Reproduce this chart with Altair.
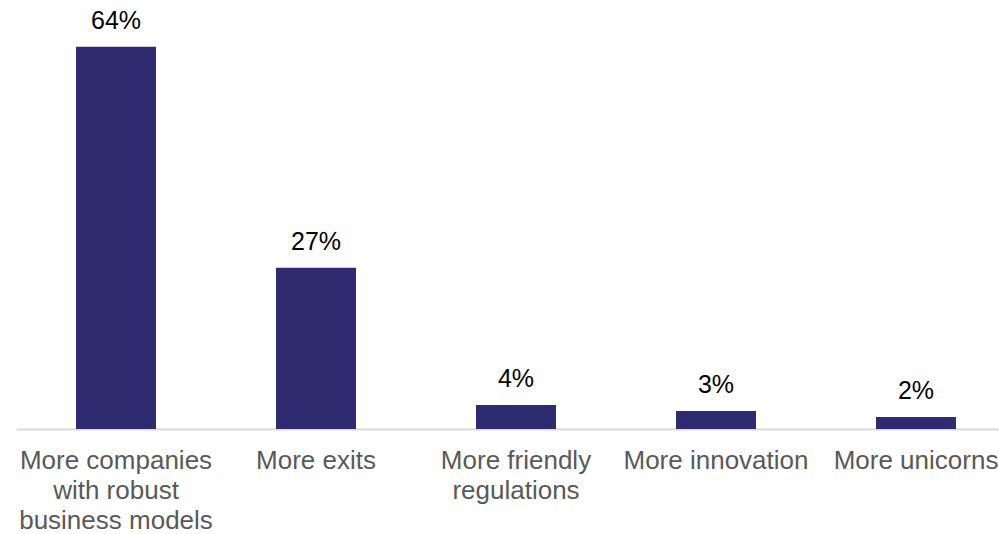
import altair as alt
import pandas as pd

categories = ["More companies|with robust|business models", "More exits", "More friendly|regulations", "More innovation", "More unicorns"]
values = [64, 27, 4, 3, 2]
labels = ["64%", "27%", "4%", "3%", "2%"]

df = pd.DataFrame({"cat": categories, "val": values, "lab": labels})

x = alt.X("cat:N", sort=categories, title=None,
          scale=alt.Scale(paddingInner=0.6, paddingOuter=0.3, range=[0, 1000]),
          axis=alt.Axis(labelAngle=0, labelExpr="split(datum.label, '|')",
                        labelFont="Liberation Sans", labelFontSize=26, labelColor="#595959",
                        labelLineHeight=30, labelPadding=18, ticks=False,
                        domainColor="#d9d9d9", domainWidth=2, labelLimit=300))
y = alt.Y("val:Q", scale=alt.Scale(domain=[0, 70], nice=False), axis=None)

bars = alt.Chart(df).mark_bar(color="#2f2b70").encode(x=x, y=y)
text = alt.Chart(df).mark_text(font="Liberation Sans", fontSize=25, color="#000000",
                               baseline="alphabetic", dy=-18).encode(x=x, y=y, text="lab:N")

chart = (bars + text).properties(
    width=983, height=418,
    autosize=alt.AutoSizeParams(type="none"),
    padding={"left": 16, "top": 11, "right": 0, "bottom": 105},
).configure_view(stroke=None)

chart.save("out.html", embed_options={"renderer": "svg", "actions": False})
